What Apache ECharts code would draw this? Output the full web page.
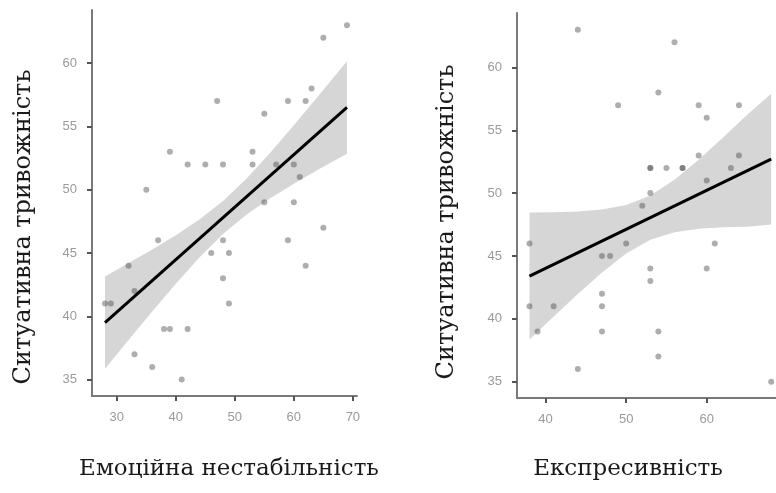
<!DOCTYPE html>
<html>
<head>
<meta charset="utf-8">
<script src="https://cdn.jsdelivr.net/npm/echarts@6.0.0/dist/echarts.min.js"></script>
<style>
html,body{margin:0;padding:0;background:#fff;}
#chart{width:776px;height:493px;}
</style>
</head>
<body>
<div id="chart"></div>
<script>
// ---------- Data ----------
// Left panel: Емоційна нестабільність vs Ситуативна тривожність
const emoX = [69,65,63,47,59,62,55,39,53,42,45,48,53,57,60,61,35,55,60,65,37,48,59,46,49,32,62,48,33,28,29,49,38,39,42,33,36,41];
const emoY = [63,62,58,57,57,57,56,53,53,52,52,52,52,52,52,51,50,49,49,47,46,46,46,45,45,44,44,43,42,41,41,41,39,39,39,37,36,35];
const emoFitX = [28, 69];
const emoFitY = [39.5, 56.5];
const emoBandX = [28,32,36,40,44,48,52,56,60,64,69];
const emoBandUpper = [43.15,44.2,45.27,46.4,47.64,49.1,50.88,52.92,55.09,57.33,60.15];
const emoBandLower = [35.85,38.12,40.37,42.56,44.64,46.5,48.04,49.32,50.47,51.55,52.85];

// Right panel: Експресивність vs Ситуативна тривожність
const expX = [44,56,54,49,59,64,60,59,64,53,53,55,57,57,63,60,53,52,38,50,61,47,48,53,60,53,47,38,41,47,39,47,54,54,44,68];
const expY = [63,62,58,57,57,57,56,53,53,52,52,52,52,52,52,51,50,49,46,46,46,45,45,44,44,43,42,41,41,41,39,39,39,37,36,35];
const expFitX = [38, 68];
const expFitY = [43.4, 52.7];
const expBandX = [38,41,44,47,50,53,56,59,62,65,68];
const expBandUpper = [48.45,48.47,48.54,48.7,49.05,49.81,51.07,52.66,54.4,56.21,57.9];
const expBandLower = [38.35,40.19,41.98,43.68,45.19,46.29,46.89,47.16,47.28,47.33,47.5];

// Tick labels
const emoXTicks = [30,40,50,60,70];
const expXTicks = [40,50,60];
const yTicks = [35,40,45,50,55,60];

const yTitle = 'Ситуативна тривожність';
const emoTitle = 'Емоційна нестабільність';
const expTitle = 'Експресивність';

// ---------- Chart ----------
const zip = (a, b) => a.map((v, i) => [v, b[i]]);
const axisCommon = {
  type: 'value',
  splitLine: {show: false},
  axisLine: {show: true, onZero: false, lineStyle: {color: '#7a7a7a', width: 2}},
  axisTick: {show: true, length: 5, lineStyle: {color: '#555', width: 2}},
  axisLabel: {color: '#9a9a9a', fontSize: 13, fontFamily: 'Liberation Sans', margin: 15}
};
function makeAxis(grid, min, max, ticks) {
  return Object.assign({}, axisCommon, {
    gridIndex: grid, min: min, max: max,
    axisTick: Object.assign({}, axisCommon.axisTick, {customValues: ticks}),
    axisLabel: Object.assign({}, axisCommon.axisLabel, {customValues: ticks})
  });
}
function bandSeries(idx, xs, lo, hi) {
  // one polygon item: the band outline, upper edge forward then lower edge back
  const outline = zip(xs, hi).concat(zip(xs, lo).reverse());
  return {
    type: 'custom', xAxisIndex: idx, yAxisIndex: idx, silent: true, z: 1,
    data: outline,
    renderItem: function (params, api) {
      if (params.dataIndex !== 0) return;
      const pts = outline.map(p => api.coord(p));
      return {type: 'polygon', shape: {points: pts}, style: {fill: '#d6d6d6'}};
    }
  };
}
function pointSeries(idx, xs, ys) {
  return {type: 'scatter', xAxisIndex: idx, yAxisIndex: idx, symbolSize: 6,
    itemStyle: {color: 'rgba(70,70,70,0.55)'}, data: zip(xs, ys), z: 2};
}
function fitSeries(idx, xs, ys) {
  return {type: 'line', xAxisIndex: idx, yAxisIndex: idx, symbol: 'none',
    lineStyle: {color: '#000', width: 3}, data: zip(xs, ys), z: 3};
}

const chart = echarts.init(document.getElementById('chart'));
chart.setOption({
  animation: false,
  backgroundColor: '#fff',
  grid: [
    {left: 92, top: 10, width: 265, height: 386},
    {left: 517, top: 13, width: 260, height: 385}
  ],
  xAxis: [
    makeAxis(0, 25.8, 70.7, emoXTicks),
    makeAxis(1, 36.45, 68.6, expXTicks)
  ],
  yAxis: [
    makeAxis(0, 33.7, 64.2, yTicks),
    makeAxis(1, 33.7, 64.33, yTicks)
  ],
  series: [
    bandSeries(0, emoBandX, emoBandLower, emoBandUpper),
    pointSeries(0, emoX, emoY),
    fitSeries(0, emoFitX, emoFitY),
    bandSeries(1, expBandX, expBandLower, expBandUpper),
    pointSeries(1, expX, expY),
    fitSeries(1, expFitX, expFitY)
  ],
  graphic: [
    {type: 'text', x: 229, y: 469, silent: true,
     style: {text: emoTitle, font: '23px "DejaVu Serif"', fill: '#1a1a1a', align: 'center', verticalAlign: 'middle'}},
    {type: 'text', x: 628, y: 469, silent: true,
     style: {text: expTitle, font: '23px "DejaVu Serif"', fill: '#1a1a1a', align: 'center', verticalAlign: 'middle'}},
    {type: 'text', x: 24, y: 227, rotation: Math.PI / 2, silent: true,
     style: {text: yTitle, font: '24px "DejaVu Serif"', fill: '#1a1a1a', align: 'center', verticalAlign: 'middle'}},
    {type: 'text', x: 447, y: 222, rotation: Math.PI / 2, silent: true,
     style: {text: yTitle, font: '24px "DejaVu Serif"', fill: '#1a1a1a', align: 'center', verticalAlign: 'middle'}}
  ]
});
</script>
</body>
</html>
